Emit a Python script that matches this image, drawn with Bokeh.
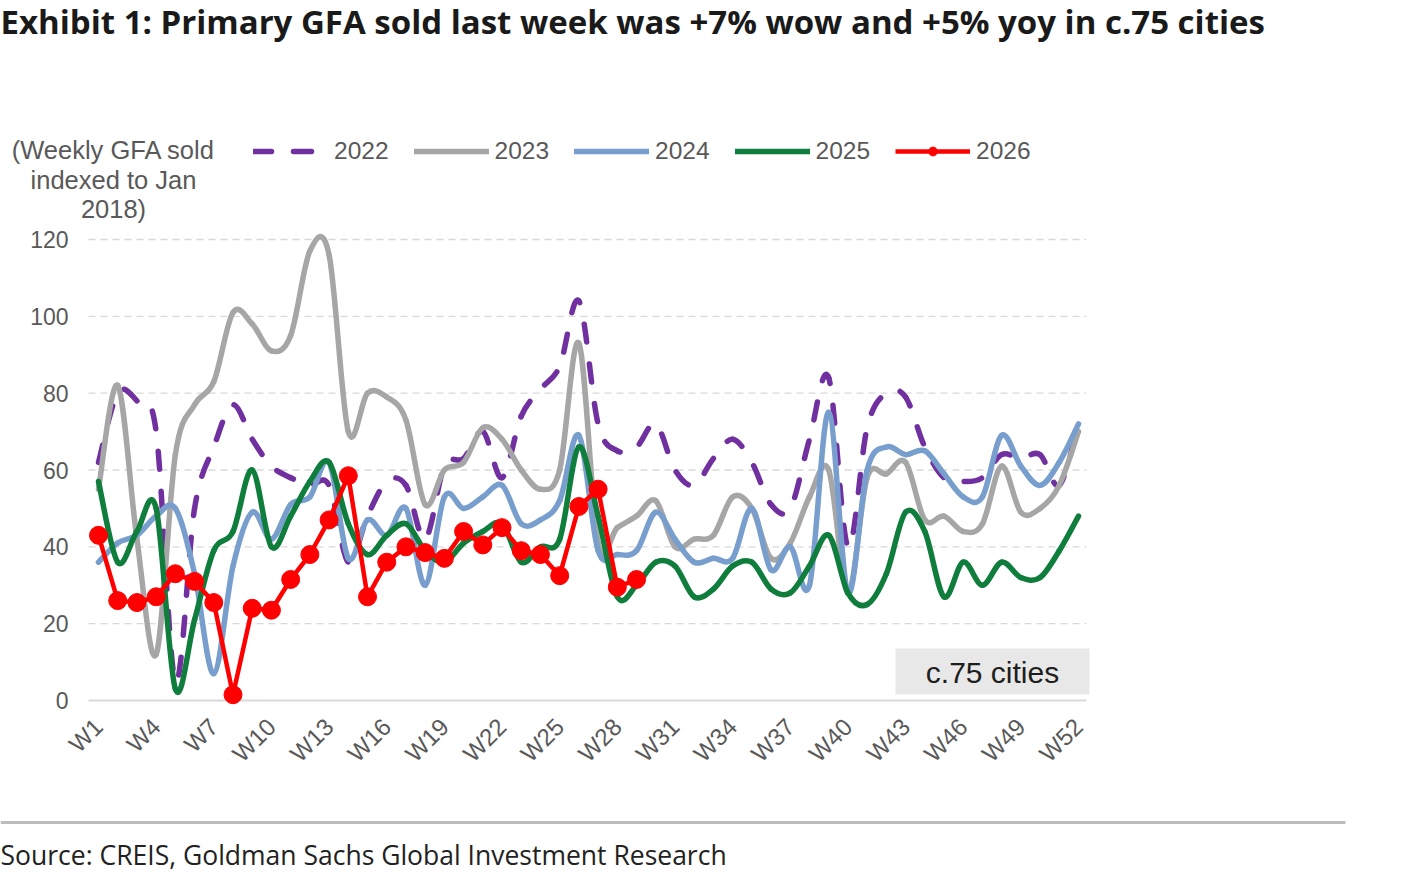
import numpy as np
from bokeh.plotting import figure
from bokeh.models import (Range1d, FixedTicker, Label, Legend, LegendItem,
                          BoxAnnotation, ColumnDataSource)
from bokeh.embed import file_html
from bokeh.resources import INLINE

# ---- data -------------------------------------------------------------
weeks = list(range(1, 53))
tick_weeks = list(range(1, 53, 3))
tick_labels = ["W1", "W4", "W7", "W10", "W13", "W16", "W19", "W22", "W25",
               "W28", "W31", "W34", "W37", "W40", "W43", "W46", "W49", "W52"]
y_ticks = [0, 20, 40, 60, 80, 100, 120]

gfa_2022 = [62, 80, 78, 70, 5, 50, 66, 77, 68, 61, 58, 56, 56, 36, 48, 57, 56,
            42, 61, 63, 70, 58, 74, 81, 87, 104, 72, 65, 66, 72, 60, 56, 63,
            68, 62, 51, 50, 68, 84, 40, 71, 80, 79, 66, 58, 57, 58, 64, 63, 64,
            56, 72]
gfa_2023 = [55, 82, 42, 12, 64, 77, 83, 101, 98, 91, 95, 117, 116, 70, 80, 79,
            73, 51, 60, 62, 71, 68, 60, 55, 60, 93, 41, 45, 48, 52, 40, 42, 43,
            53, 50, 37, 41, 53, 60, 28, 58, 59, 62, 47, 48, 44, 46, 61, 49, 50,
            56, 70]
gfa_2024 = [36, 41, 43, 48, 50, 33, 7, 35, 49, 42, 51, 53, 62, 37, 47, 43, 50,
            30, 53, 50, 53, 56, 46, 47, 52, 69, 39, 38, 39, 49, 42, 36, 37, 37,
            50, 34, 40, 30, 75, 28, 60, 66, 64, 65, 59, 53, 53, 69, 61, 56, 62,
            72]
gfa_2025 = [57, 36, 44, 50, 3, 21, 39, 44, 60, 40, 48, 57, 62, 46, 38, 43, 46,
            39, 36, 41, 44, 46, 36, 40, 42, 66, 48, 27, 30, 36, 35, 27, 29, 35,
            36, 29, 28, 35, 43, 28, 25, 33, 49, 44, 27, 36, 30, 36, 32, 32, 39,
            48]
gfa_2026 = [43, 26, 25.5, 27, 33, 31, 25.5, 1.5, 24, 23.5, 31.5, 38, 47, 58.5,
            27, 36, 40, 38.5, 37, 44, 40.5, 45, 39, 38, 32.5, 50.5, 55, 29.5,
            31.5]

# ---- page geometry (pixels) -------------------------------------------
W, H = 1408, 872
PX_W1, PX_W52 = 98, 1078        # horizontal position of first/last week
PX_Y0, PX_Y120 = 700, 239       # vertical position of index 0 / 120
XS = (PX_W52 - PX_W1) / (weeks[-1] - weeks[0])
YS = (PX_Y0 - PX_Y120) / (y_ticks[-1] - y_ticks[0])
X_START = weeks[0] - PX_W1 / XS
Y_END = y_ticks[-1] + PX_Y120 / YS


def dx(px):
    return X_START + px / XS


def dy(py):
    return Y_END - py / YS


def smooth_segments(values, dash_period=None):
    """Cubic Bezier segments (Catmull-Rom style) through the weekly values."""
    y = np.asarray(values, dtype=float)
    x = np.asarray(weeks[:len(y)], dtype=float)
    n = len(y)
    xp = np.concatenate([[x[0]], x, [x[-1]]])
    yp = np.concatenate([[y[0]], y, [y[-1]]])
    cx0 = x[:-1] + (xp[2:n + 1] - xp[0:n - 1]) / 6.0
    cy0 = y[:-1] + (yp[2:n + 1] - yp[0:n - 1]) / 6.0
    cx1 = x[1:] - (xp[3:n + 2] - xp[1:n]) / 6.0
    cy1 = y[1:] - (yp[3:n + 2] - yp[1:n]) / 6.0
    data = dict(x0=x[:-1], y0=y[:-1], x1=x[1:], y1=y[1:],
                cx0=cx0, cy0=cy0, cx1=cx1, cy1=cy1)
    if dash_period:
        # carry the dash phase over from one segment to the next
        t = np.linspace(0, 1, 25)[:, None]
        bx = ((1 - t) ** 3 * data["x0"] + 3 * (1 - t) ** 2 * t * cx0
              + 3 * (1 - t) * t ** 2 * cx1 + t ** 3 * data["x1"]) * XS
        by = ((1 - t) ** 3 * data["y0"] + 3 * (1 - t) ** 2 * t * cy0
              + 3 * (1 - t) * t ** 2 * cy1 + t ** 3 * data["y1"]) * YS
        seg_len = np.sqrt(np.diff(bx, axis=0) ** 2
                          + np.diff(by, axis=0) ** 2).sum(axis=0)
        start = np.concatenate([[0.0], np.cumsum(seg_len)[:-1]])
        data["offset"] = (np.round(start) % dash_period).astype(int)
    return ColumnDataSource(data)


# ---- figure: the frame covers the whole page, axes sit at fixed spots ---
p = figure(width=W, height=H, title=None,
           x_range=Range1d(dx(0), dx(W)), y_range=Range1d(dy(H), dy(0)),
           output_backend="svg", toolbar_location=None, min_border=0)
p.outline_line_color = None
p.background_fill_color = "white"
p.border_fill_color = "white"
p.grid.visible = False

ax_font = "Liberation Sans"
ax_color = "#595959"

p.yaxis.fixed_location = dx(85)
p.yaxis.ticker = FixedTicker(ticks=y_ticks)
p.yaxis.axis_line_color = None
p.yaxis.major_tick_line_color = None
p.yaxis.minor_tick_line_color = None
p.yaxis.major_tick_out = 0
p.yaxis.major_tick_in = 0
p.yaxis.major_label_standoff = 17
p.yaxis.major_label_text_font = ax_font
p.yaxis.major_label_text_font_size = "23px"
p.yaxis.major_label_text_color = ax_color

p.xaxis.fixed_location = 0
p.xaxis.ticker = FixedTicker(ticks=tick_weeks)
p.xaxis.major_label_overrides = dict(zip(tick_weeks, tick_labels))
p.xaxis.major_label_orientation = np.pi / 4
p.xaxis.axis_line_color = None
p.xaxis.major_tick_line_color = None
p.xaxis.minor_tick_line_color = None
p.xaxis.major_tick_out = 0
p.xaxis.major_tick_in = 0
p.xaxis.major_label_standoff = 22
p.xaxis.major_label_text_font = ax_font
p.xaxis.major_label_text_font_size = "24px"
p.xaxis.major_label_text_color = ax_color

# horizontal guide lines at the y ticks
grid_left, grid_right = dx(88), dx(1086)
grid_src = ColumnDataSource(dict(y=y_ticks[1:]))
p.segment(x0=grid_left, x1=grid_right, y0="y", y1="y", source=grid_src,
          line_color="#d9d9d9", line_width=1.3, line_dash="7 5",
          level="underlay")
p.segment(x0=grid_left, x1=grid_right, y0=y_ticks[0], y1=y_ticks[0],
          line_color="#d9d9d9", line_width=2, level="underlay")

# "c.75 cities" tag
p.add_layout(BoxAnnotation(left=dx(895), right=dx(1089), top=dy(648),
                           bottom=dy(694), fill_color="#e8e8e8", fill_alpha=1,
                           line_color=None, level="underlay"))
p.add_layout(Label(x=dx(992), y=dy(672), text="c.75 cities",
                   text_font=ax_font, text_font_size="30px",
                   text_color="#1e1e1e", text_align="center",
                   text_baseline="middle"))

# ---- series -----------------------------------------------------------
LW = 5.5
DASH_ON, DASH_OFF = 18, 22
src22 = smooth_segments(gfa_2022, dash_period=DASH_ON + DASH_OFF)
r22 = p.bezier(x0="x0", y0="y0", x1="x1", y1="y1", cx0="cx0", cy0="cy0",
               cx1="cx1", cy1="cy1", source=src22, line_color="#7030A0",
               line_width=LW, line_dash=f"{DASH_ON} {DASH_OFF}",
               line_dash_offset="offset", line_cap="round")
r23 = p.bezier(x0="x0", y0="y0", x1="x1", y1="y1", cx0="cx0", cy0="cy0",
               cx1="cx1", cy1="cy1", source=smooth_segments(gfa_2023),
               line_color="#A6A6A6", line_width=LW, line_cap="round")
r24 = p.bezier(x0="x0", y0="y0", x1="x1", y1="y1", cx0="cx0", cy0="cy0",
               cx1="cx1", cy1="cy1", source=smooth_segments(gfa_2024),
               line_color="#779ECD", line_width=LW, line_cap="round")
r25 = p.bezier(x0="x0", y0="y0", x1="x1", y1="y1", cx0="cx0", cy0="cy0",
               cx1="cx1", cy1="cy1", source=smooth_segments(gfa_2025),
               line_color="#0F7D3C", line_width=LW, line_cap="round")

src26 = ColumnDataSource(dict(week=weeks[:len(gfa_2026)], value=gfa_2026))
r26l = p.line("week", "value", source=src26, line_color="#FF0000",
              line_width=4.5, line_join="round")
r26m = p.scatter("week", "value", source=src26, size=18, marker="circle",
                 fill_color="#FF0000", line_color="#FF0000")

# ---- legend -----------------------------------------------------------
legend = Legend(items=[
    LegendItem(label="2022", renderers=[r22], index=0),
    LegendItem(label="2023", renderers=[r23], index=0),
    LegendItem(label="2024", renderers=[r24], index=0),
    LegendItem(label="2025", renderers=[r25], index=0),
    LegendItem(label="2026", renderers=[r26l, r26m]),
], orientation="horizontal", location=(253, H - 165),
    glyph_width=75, glyph_height=22, label_standoff=6, spacing=25,
    padding=0, margin=0, border_line_color=None, background_fill_alpha=0,
    label_text_font=ax_font, label_text_font_size="24.5px",
    label_text_color=ax_color)
p.add_layout(legend, "center")

# ---- title, axis caption, footer ---------------------------------------
p.add_layout(Label(x=dx(0), y=dy(21),
                   text="Exhibit 1: Primary GFA sold last week was +7% wow and +5% yoy in c.75 cities",
                   text_font="Open Sans", text_font_style="bold",
                   text_font_size="33px", text_color="#1a1a1a",
                   text_baseline="middle"))
for txt, mid in [("(Weekly GFA sold", 149), ("indexed to Jan", 179),
                 ("2018)", 208)]:
    p.add_layout(Label(x=dx(113), y=dy(mid), text=txt, text_font=ax_font,
                       text_font_size="25.5px", text_color=ax_color,
                       text_align="center", text_baseline="middle"))

p.segment(x0=dx(0), x1=dx(1345), y0=dy(822), y1=dy(822),
          line_color="#bdbdbd", line_width=3)
p.add_layout(Label(x=dx(0), y=dy(854),
                   text="Source: CREIS, Goldman Sachs Global Investment Research",
                   text_font="Open Sans", text_font_size="26.5px",
                   text_color="#222222", text_baseline="middle"))

open("out.html", "w").write(file_html(p, INLINE))
